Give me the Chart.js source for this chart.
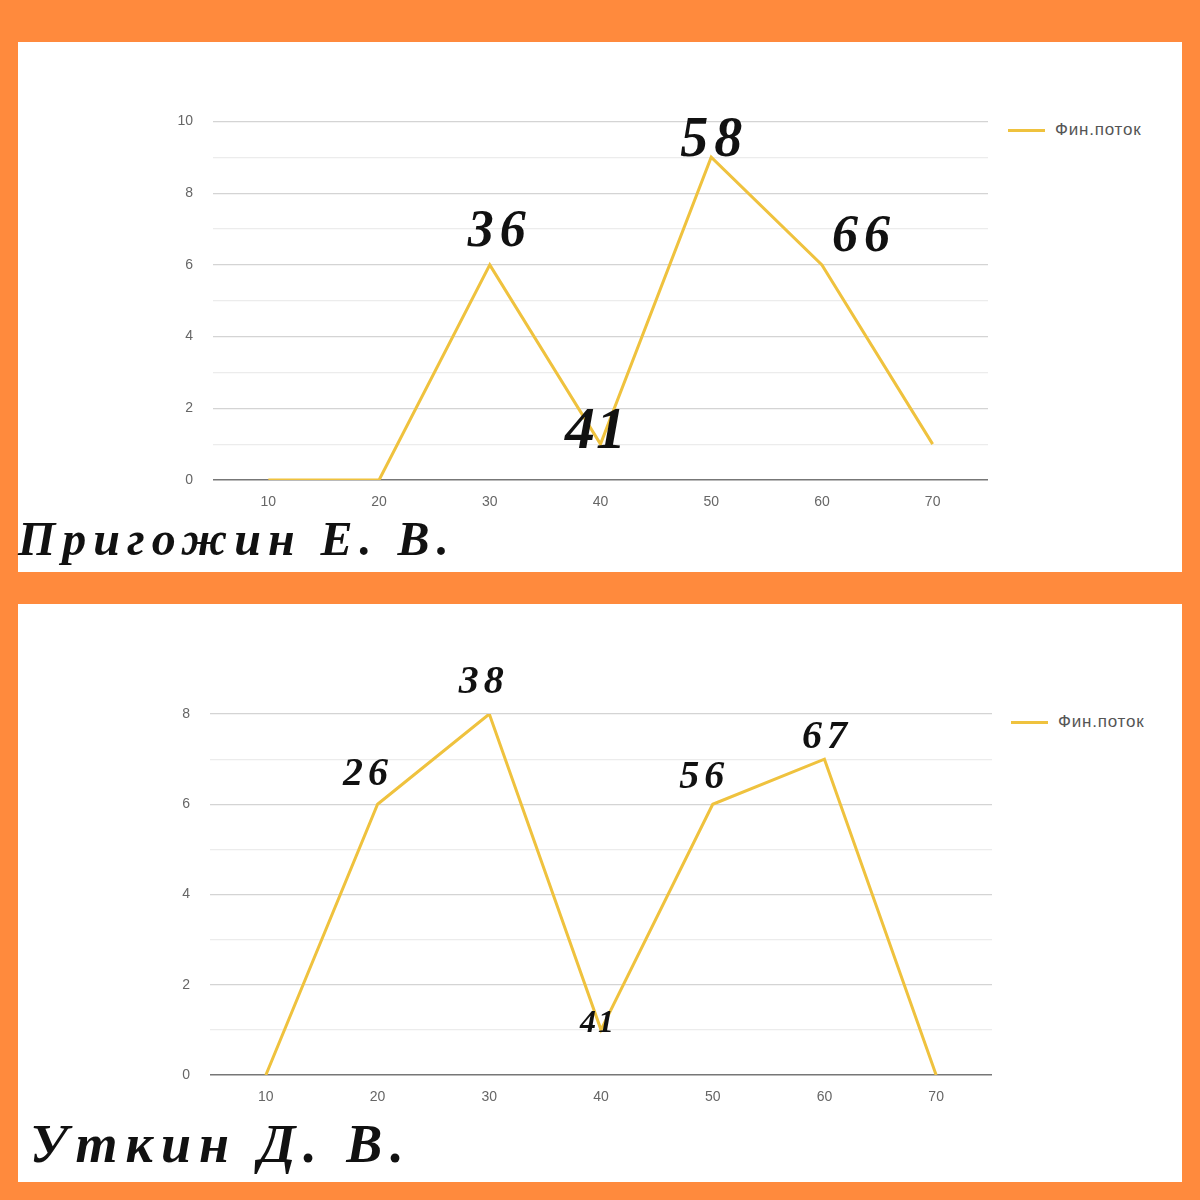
<!DOCTYPE html>
<html>
<head>
<meta charset="utf-8">
<script src="https://cdn.jsdelivr.net/npm/chart.js@4.4.1/dist/chart.umd.min.js"></script>
<style>
  html, body { margin:0; padding:0; }
  body { width:1200px; height:1200px; background:#FF8A3D; position:relative; overflow:hidden; font-family:"Liberation Sans", Arial, sans-serif; }
  .panel { position:absolute; left:18px; width:1164px; background:#fff; }
  .cv { position:absolute; }
  .legend { position:absolute; display:flex; align-items:center; font-family:"Liberation Sans", Arial, sans-serif; font-size:17px; letter-spacing:0.8px; color:#555; }
  .legend .swatch { width:37px; height:3px; background:#EFC23E; margin-right:10px; }
  .name { position:absolute; font-family:"Liberation Serif", serif; font-style:italic; font-weight:bold; color:#111; white-space:nowrap; line-height:1; }
</style>
</head>
<body>
<div class="panel" style="top:42px;height:530px;"></div>
<div class="panel" style="top:604px;height:578px;"></div>

<div class="cv" style="left:150px;top:93px;width:840px;height:437px;"><canvas id="c1"></canvas></div>
<div class="cv" style="left:150px;top:640px;width:844px;height:485px;"><canvas id="c2"></canvas></div>

<div class="legend" style="left:1008px;top:120px;"><div class="swatch"></div><span id="lg1"></span></div>
<div class="legend" style="left:1011px;top:712px;"><div class="swatch"></div><span id="lg2"></span></div>

<div class="name" id="n1" style="left:18px;top:515px;font-size:48px;letter-spacing:7px;"></div>
<div class="name" id="n2" style="left:30px;top:1117px;font-size:54px;letter-spacing:8px;"></div>

<script>
// ---- data ----
const categories = ['10', '20', '30', '40', '50', '60', '70'];
const seriesName = 'Фин.поток';
const prigozhinValues = [0, 0, 6, 1, 9, 6, 1];
const utkinValues = [0, 6, 8, 1, 6, 7, 0];
const prigozhinNotes = ['', '', '36', '41', '58', '66', ''];
const utkinNotes = ['', '26', '38', '41', '56', '67', ''];
const prigozhinYMax = 10;
const utkinYMax = 8;
const prigozhinTitle = 'Пригожин Е. В.';
const utkinTitle = 'Уткин Д. В.';

document.getElementById('lg1').textContent = seriesName;
document.getElementById('lg2').textContent = seriesName;
document.getElementById('n1').textContent = prigozhinTitle;
document.getElementById('n2').textContent = utkinTitle;

const LINE = '#EFC23E';

// note styling (offsets relative to data point, font sizes) kept apart from data
const noteStyle1 = [null, null,
  {dx:7,dy:-32,size:52,ls:6}, {dx:-5,dy:-12,size:60,ls:1}, {dx:0,dy:-16,size:56,ls:6}, {dx:39,dy:-27,size:52,ls:6}, null];
const noteStyle2 = [null,
  {dx:-12,dy:-30,size:40,ls:5}, {dx:-8,dy:-31,size:40,ls:5}, {dx:-4,dy:-6,size:32,ls:2}, {dx:-11,dy:-27,size:40,ls:5}, {dx:0,dy:-21,size:40,ls:5}, null];

const notesPlugin = {
  id: 'notes',
  afterDatasetsDraw(chart, args, opts) {
    const ctx = chart.ctx;
    const meta = chart.getDatasetMeta(0);
    opts.notes.forEach((t, i) => {
      const st = opts.styles[i];
      if (!t || !st) return;
      const pt = meta.data[i];
      ctx.save();
      ctx.font = 'italic bold ' + st.size + 'px "Liberation Serif", serif';
      ctx.letterSpacing = st.ls + 'px';
      ctx.fillStyle = '#111';
      ctx.textAlign = 'center';
      ctx.textBaseline = 'middle';
      ctx.fillText(t, pt.x + st.dx + st.ls / 2, pt.y + st.dy);
      ctx.restore();
    });
  }
};

function makeChart(id, values, yMax, yWidth, padTop, notes, styles) {
  return new Chart(document.getElementById(id), {
    type: 'line',
    data: {
      labels: categories,
      datasets: [{
        label: seriesName,
        data: values,
        borderColor: LINE,
        borderWidth: 3,
        pointRadius: 0,
        tension: 0,
        fill: false
      }]
    },
    options: {
      responsive: true,
      maintainAspectRatio: false,
      animation: false,
      layout: { padding: { top: padTop, right: 2, bottom: 10, left: 0 } },
      plugins: {
        legend: { display: false },
        tooltip: { enabled: false },
        notes: { notes: notes, styles: styles }
      },
      scales: {
        x: {
          offset: true,
          grid: { display: false, drawTicks: false },
          border: { display: false },
          ticks: { color: '#666', font: { family: '"Liberation Sans", Arial, sans-serif', size: 14 }, padding: 14, maxRotation: 0 },
          afterFit(s) { s.height = 40; }
        },
        y: {
          min: 0, max: yMax,
          grid: {
            drawTicks: false,
            color: (c) => c.tick.value === 0 ? '#777' : (c.tick.value % 2 === 0 ? '#d4d4d4' : '#ececec'),
            lineWidth: (c) => c.tick.value === 0 ? 1.5 : 1.2
          },
          border: { display: false },
          ticks: {
            stepSize: 1,
            color: '#666',
            font: { family: '"Liberation Sans", Arial, sans-serif', size: 14 },
            padding: 20,
            callback: (v) => v % 2 === 0 ? String(v) : ''
          },
          afterFit(s) { s.width = yWidth; }
        }
      }
    },
    plugins: [notesPlugin]
  });
}

makeChart('c1', prigozhinValues, prigozhinYMax, 63, 14, prigozhinNotes, noteStyle1);
makeChart('c2', utkinValues, utkinYMax, 60, 74, utkinNotes, noteStyle2);
</script>
</body>
</html>
